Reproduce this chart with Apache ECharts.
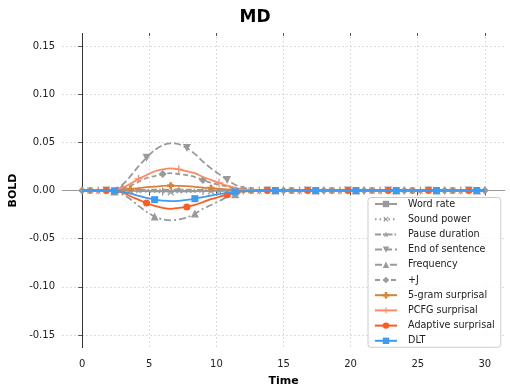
<!DOCTYPE html>
<html>
<head>
<meta charset="utf-8">
<script src="https://cdn.jsdelivr.net/npm/echarts@6/dist/echarts.min.js"></script>
<style>
  html, body { margin: 0; padding: 0; background: #fff; }
  #chart { width: 510px; height: 385px; }
</style>
</head>
<body>
<div id="chart"></div>
<script>
// time grid (s), one sample every 0.6 s
const times = [0, 0.6, 1.2, 1.8, 2.4, 3, 3.6, 4.2, 4.8, 5.4, 6, 6.6, 7.2, 7.8, 8.4, 9, 9.6,
  10.2, 10.8, 11.4, 12, 12.6, 13.2, 13.8, 14.4, 15, 15.6, 16.2, 16.8, 17.4, 18, 18.6, 19.2,
  19.8, 20.4, 21, 21.6, 22.2, 22.8, 23.4, 24, 24.6, 25.2, 25.8, 26.4, 27, 27.6, 28.2, 28.8,
  29.4, 30]

const xTicks = [0, 5, 10, 15, 20, 25, 30]
const yTicks = [-0.15, -0.10, -0.05, 0.00, 0.05, 0.10, 0.15]

const seriesNames = ['Word rate', 'Sound power', 'Pause duration', 'End of sentence', 'Frequency',
  '+J', '5-gram surprisal', 'PCFG surprisal', 'Adaptive surprisal', 'DLT']

const Z = [0, 0, 0, 0, 0, 0, 0, 0, 0, 0, 0, 0, 0, 0, 0, 0, 0, 0, 0, 0, 0, 0, 0, 0, 0, 0, 0, 0, 0]

const wordRate = [0, 0, 0, 0,
  0, 0, -0.0003, -0.0005, -0.0007, -0.0009, -0.001, -0.001, -0.001, -0.0009, -0.0008, -0.0006, -0.0005, -0.0003, -0.0002, -0.0001, 0, 0,
  ...Z]
const soundPower = [0, 0, 0, 0,
  0, -0.0003, -0.0006, -0.001, -0.0014, -0.0017, -0.0019, -0.002, -0.0019, -0.0018, -0.0015, -0.0012, -0.0009, -0.0007, -0.0005, -0.0003, -0.0001, 0,
  ...Z]
const pauseDuration = [0, 0, 0, 0,
  0, 0.0001, 0.0003, 0.0005, 0.0007, 0.0009, 0.001, 0.001, 0.001, 0.0009, 0.0008, 0.0006, 0.0005, 0.0003, 0.0002, 0.0001, 0, 0,
  ...Z]
const endOfSentence = [0, 0, 0, 0,
  0.0015, 0.006, 0.015, 0.025, 0.034, 0.042, 0.047, 0.049, 0.048, 0.044, 0.038, 0.030, 0.023, 0.017, 0.011, 0.006, 0.003, 0.001,
  ...Z]
const frequency = [0, 0, 0, 0,
  -0.001, -0.004, -0.009, -0.016, -0.022, -0.027, -0.030, -0.031, -0.030, -0.028, -0.024, -0.019, -0.015, -0.011, -0.007, -0.004, -0.002, -0.001,
  ...Z]
const plusJ = [0, 0, 0, 0,
  0.0005, 0.002, 0.005, 0.009, 0.013, 0.015, 0.017, 0.018, 0.017, 0.016, 0.014, 0.011, 0.008, 0.006, 0.004, 0.002, 0.001, 0,
  ...Z]
const fiveGram = [0, 0, 0, 0,
  0, 0.001, 0.0015, 0.0025, 0.0035, 0.004, 0.0048, 0.005, 0.0048, 0.0045, 0.0038, 0.003, 0.0024, 0.0017, 0.0012, 0.0006, 0.0003, 0,
  ...Z]
const pcfg = [0, 0, 0, 0,
  0.001, 0.003, 0.007, 0.012, 0.016, 0.020, 0.022, 0.023, 0.022, 0.020, 0.018, 0.014, 0.011, 0.008, 0.005, 0.003, 0.001, 0.0005,
  ...Z]
const adaptive = [0, 0, 0, 0,
  -0.0005, -0.002, -0.006, -0.0095, -0.013, -0.016, -0.018, -0.019, -0.018, -0.017, -0.015, -0.012, -0.009, -0.0065, -0.0045, -0.0025, -0.001, -0.0004,
  ...Z]
const dlt = [0, 0, 0, 0,
  -0.0003, -0.0013, -0.0033, -0.0055, -0.0077, -0.0095, -0.0105, -0.011, -0.0107, -0.0098, -0.0085, -0.0068, -0.0052, -0.0037, -0.0025, -0.0014, -0.0007, -0.0002,
  ...Z]

const seriesValues = [wordRate, soundPower, pauseDuration, endOfSentence, frequency,
  plusJ, fiveGram, pcfg, adaptive, dlt]

// styles
const GREY = '#9a9a9a'
const VBAR = 'path://M4.2,0H5.8V10H4.2Z'
const PLUS = 'path://M4.2,0H5.8V4.2H10V5.8H5.8V10H4.2V5.8H0V4.2H4.2Z'
const FATPLUS = 'path://M3,0H7V3H10V7H7V10H3V7H0V3H3Z'
const STAR = 'path://M5,0L6.2,3.6L10,3.6L6.9,5.9L8.1,9.5L5,7.3L1.9,9.5L3.1,5.9L0,3.6L3.8,3.6Z'
const styles = [
  { color: GREY, type: 'solid', symbol: VBAR, size: 8, rotate: 0 },
  { color: GREY, type: [1.5, 3], symbol: PLUS, size: 8, rotate: 45 },
  { color: GREY, type: [6, 2, 1.5, 2], symbol: STAR, size: 8, rotate: 0 },
  { color: GREY, type: [7, 3], symbol: 'triangle', size: 8, rotate: 180 },
  { color: GREY, type: [7, 3, 2, 3], symbol: 'triangle', size: 8, rotate: 0 },
  { color: GREY, type: [5, 3], symbol: 'diamond', size: 8, rotate: 0 },
  { color: '#d9823b', type: 'solid', symbol: FATPLUS, size: 7, rotate: 0 },
  { color: '#ff8a62', type: 'solid', symbol: PLUS, size: 8, rotate: 0 },
  { color: '#ff5a1f', type: 'solid', symbol: 'circle', size: 7, rotate: 0 },
  { color: '#3d9bf2', type: 'solid', symbol: 'rect', size: 7, rotate: 0 },
]

const chart = echarts.init(document.getElementById('chart'), null, { renderer: 'canvas' })

const series = seriesNames.map((name, k) => {
  const st = styles[k]
  const every = k % 5
  return {
    type: 'line', name,
    data: times.map((t, i) => i % 5 === every
      ? { value: [t, seriesValues[k][i]] }
      : { value: [t, seriesValues[k][i]], symbol: 'none' }),
    smooth: 0.3,
    showSymbol: true, showAllSymbol: true,
    symbol: st.symbol, symbolSize: st.size, symbolRotate: st.rotate, symbolKeepAspect: true,
    lineStyle: { color: st.color, width: 1.8, type: st.type },
    itemStyle: { color: st.color, borderWidth: 0 },
    emphasis: { disabled: true },
    z: 3 + k,
  }
})

// reference lines: y = 0 (grey) and x = 0 (black)
series[0].markLine = {
  silent: true, symbol: 'none', label: { show: false }, animation: false,
  data: [
    { yAxis: 0, lineStyle: { color: '#9a9a9a', width: 1, type: 'solid' } },
    { xAxis: 0, lineStyle: { color: '#333', width: 1, type: 'solid' } },
  ],
}

const tickLabel = { color: '#222', fontSize: 10, fontFamily: 'DejaVu Sans' }

chart.setOption({
  animation: false,
  backgroundColor: '#fff',
  title: {
    text: 'MD', left: 'center', top: 4,
    textStyle: { fontFamily: 'DejaVu Sans', fontWeight: 'bold', fontSize: 17, color: '#000' },
  },
  grid: { left: 62, right: 5, top: 33, bottom: 37, outerBoundsMode: 'none' },
  legend: {
    orient: 'vertical', left: 368, top: 197.5,
    itemWidth: 22, itemHeight: 8, itemGap: 2.2,
    padding: [0, 6, 0, 6],
    backgroundColor: 'rgba(255,255,255,0.85)',
    borderColor: '#cccccc', borderWidth: 1, borderRadius: 3,
    textStyle: { fontFamily: 'DejaVu Sans', fontSize: 9.6, color: '#222', lineHeight: 13, padding: [0, 0, 0, 6] },
    data: seriesNames,
  },
  xAxis: [{
    type: 'value', min: -1.5, max: 31.5,
    name: 'Time', nameLocation: 'middle', nameGap: 28,
    nameTextStyle: { fontFamily: 'DejaVu Sans', fontWeight: 'bold', fontSize: 11, color: '#000' },
    axisLine: { show: false },
    axisTick: { show: true, length: 5, customValues: xTicks, lineStyle: { color: '#555' } },
    axisLabel: { customValues: xTicks, margin: 11, ...tickLabel },
    splitLine: { show: true, lineStyle: { color: '#d4d4d4', type: [2, 2], width: 0.8 } },
  }, {
    type: 'value', min: -1.5, max: 31.5, position: 'top',
    axisLine: { show: false },
    axisTick: { show: true, inside: true, length: 3, customValues: xTicks, lineStyle: { color: '#555' } },
    axisLabel: { show: false },
    splitLine: { show: false },
  }],
  yAxis: {
    type: 'value', min: -0.1635, max: 0.1635,
    name: 'BOLD', nameLocation: 'middle', nameGap: 41, nameRotate: 90,
    nameTextStyle: { fontFamily: 'DejaVu Sans', fontWeight: 'bold', fontSize: 11, color: '#000' },
    axisLine: { show: false },
    axisTick: { show: true, length: 4, customValues: yTicks, lineStyle: { color: '#555' } },
    axisLabel: { customValues: yTicks, margin: 7, formatter: v => v.toFixed(2), ...tickLabel },
    splitLine: { show: true, lineStyle: { color: '#d4d4d4', type: [2, 2], width: 0.8 } },
  },
  series,
})
</script>
</body>
</html>
